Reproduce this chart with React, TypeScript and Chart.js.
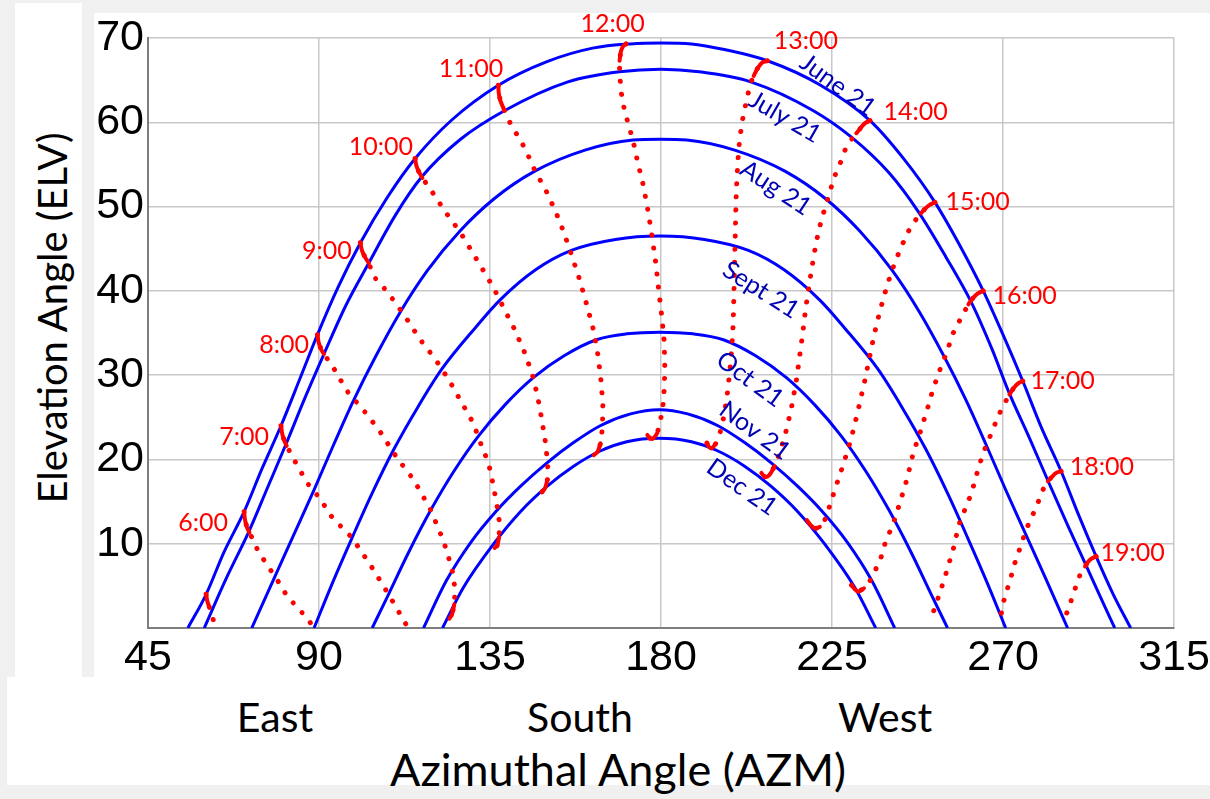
import React, { useEffect, useRef } from 'react';
import { Chart, registerables } from 'chart.js';

Chart.register(...registerables);

type Pt = [number, number];

// ---- axes ----
const xTickValues = [45, 90, 135, 180, 225, 270, 315];
const yTickValues = [0, 10, 20, 30, 40, 50, 60, 70];

// ---- sun-path curves (azimuth, elevation) for the 21st of each month ----
const dayNames = ['June 21', 'July 21', 'Aug 21', 'Sept 21', 'Oct 21', 'Nov 21', 'Dec 21'];

const june: Pt[] = [[55.5, 0], [60.3, 4.0], [65, 9.0], [70.3, 13.8], [75, 18.9], [80, 24.0], [85, 29.6], [89.6, 34.8], [95, 40.4], [100.9, 45.7], [108, 51.1], [115.3, 55.7], [125, 60.3], [137.2, 64.4], [150, 67.2], [162, 68.8], [172, 69.3], [180, 69.4], [188, 69.3], [197, 68.6], [208, 67.3], [222, 64.4], [235, 60.2], [244, 55.6], [252.1, 50.5], [258.5, 45.5], [264.8, 40.0], [270, 34.8], [275.2, 29.3], [280, 23.9], [285.3, 18.6], [290, 13.3], [294.5, 8.5], [299, 4.0], [303.6, 0]];
const july: Pt[] = [[59.8, 0], [65.5, 5.8], [71.6, 11.5], [76.5, 16.7], [81.3, 21.8], [86.3, 27.3], [91.3, 32.5], [97, 38.2], [103.1, 43.3], [110, 48.9], [117, 53.5], [127, 57.9], [138.9, 61.4], [155.5, 64.8], [169.1, 66.0], [180, 66.3], [190, 66.0], [203.6, 64.8], [220, 61.4], [230.2, 58.2], [240, 54.0], [247.7, 49.4], [255, 44.0], [261.7, 38.6], [267, 33.2], [271.7, 27.8], [277, 22.5], [281.8, 17.5], [287, 12.2], [291.8, 7.5], [295.5, 3.8], [299.4, 0]];
const aug: Pt[] = [[72.3, 0], [78.3, 6.0], [83.5, 11.2], [88.7, 16.4], [93.9, 21.8], [99.2, 27.1], [105, 32.3], [111.4, 37.5], [118.5, 42.4], [127.1, 47.1], [136, 50.9], [146.8, 54.2], [160, 56.7], [172.6, 57.9], [179.7, 58.0], [186.8, 57.9], [199.4, 56.7], [212.6, 54.2], [223.4, 50.9], [232.3, 47.1], [240.9, 42.4], [248, 37.5], [254.4, 32.3], [260.2, 27.1], [265.5, 21.8], [270.7, 16.4], [275.9, 11.2], [281.1, 6.0], [287, 0]];
const sept: Pt[] = [[88.7, 0], [93.5, 5.3], [98.7, 10.7], [104, 16.0], [109.7, 21.2], [116, 26.2], [122.3, 30.7], [131.1, 35.6], [137.6, 38.9], [147, 42.5], [156.4, 44.8], [168, 46.1], [179.7, 46.5], [191.4, 46.1], [203, 44.8], [212.4, 42.5], [221.8, 38.9], [228.3, 35.6], [237.1, 30.7], [243.4, 26.2], [249.7, 21.2], [255.4, 16.0], [260.7, 10.7], [265.9, 5.3], [270.7, 0]];
const oct: Pt[] = [[104, 0], [108.3, 4.0], [113.5, 8.9], [119.3, 13.9], [125.5, 18.6], [132, 22.8], [139, 26.5], [146.4, 29.7], [154.5, 32.3], [163, 34.2], [171, 34.9], [179.7, 35.1], [188.4, 34.9], [196.4, 34.2], [204.9, 32.3], [213, 29.7], [220.4, 26.5], [227.4, 22.8], [233.9, 18.6], [240.1, 13.9], [245.9, 8.9], [251.1, 4.0], [255.4, 0]];
const nov: Pt[] = [[117.5, 0], [123.5, 5.6], [130, 10.2], [136.5, 13.8], [143, 16.8], [150, 19.6], [157, 22.0], [164, 24.0], [172, 25.4], [179.5, 25.9], [187, 25.4], [195, 24.0], [202, 22.0], [209, 19.6], [216, 16.8], [222.5, 13.8], [229, 10.2], [235.5, 5.6], [241.5, 0]];
const dec: Pt[] = [[122.5, 0], [128, 4.8], [136, 10.0], [143, 13.8], [150, 16.8], [157, 19.2], [164, 21.0], [171, 22.1], [179.5, 22.5], [188, 22.1], [195, 21.0], [202, 19.2], [209, 16.8], [216, 13.8], [223, 10.0], [231, 4.8], [236.5, 0]];
const dayCurves = [june, july, aug, sept, oct, nov, dec];

// ---- hour lines (June 21 end first, December 21 end last) ----
const h05: Pt[] = [[60.3, 4.0], [60.6, 3.2], [61.2, 2.4], [61.9, 1.4], [62.6, 0.3]];
const h06: Pt[] = [[70.3, 13.8], [70.5, 12.9], [71.0, 12.0], [71.7, 11.3], [72.6, 10.5], [73.8, 9.3], [76.0, 7.7], [78.6, 6.0], [81.3, 4.0], [84.3, 2.4], [86.9, 1.2], [88.3, 0.2]];
const h07: Pt[] = [[80.0, 24.0], [80.3, 23.1], [80.8, 22.3], [81.5, 21.6], [83.4, 20.0], [86.9, 17.2], [90.0, 15.5], [93.5, 13.1], [98.7, 10.7], [103.5, 7.5], [108.3, 4.0], [113.2, 0.2]];
const h08: Pt[] = [[89.6, 34.8], [89.9, 33.9], [90.5, 33.1], [91.3, 32.5], [93.5, 31.1], [97.4, 28.1], [102.7, 25.3], [106.2, 23.2], [110.5, 20.2], [114.9, 17.6], [119.3, 14.1], [122.8, 10.3], [125.0, 7.0], [125.8, 4.6], [125.6, 2.8], [125.0, 1.6], [124.3, 1.1]];
const h09: Pt[] = [[100.9, 45.7], [101.3, 44.8], [102.1, 44.0], [103.1, 43.3], [104.4, 41.7], [107.0, 40.4], [110.1, 38.6], [113.2, 36.6], [116.5, 34.3], [120.6, 31.9], [124.1, 29.5], [127.6, 26.7], [130.6, 24.3], [132.8, 21.6], [134.6, 19.6], [135.6, 17.5], [136.7, 14.9], [137.5, 12.5], [137.4, 10.8], [136.9, 9.8], [136.2, 9.5]];
const h10: Pt[] = [[115.3, 55.7], [115.6, 54.9], [116.2, 54.2], [117.2, 53.4], [118.6, 52.5], [120.6, 51.2], [123.2, 49.4], [127.1, 47.0], [130.2, 44.7], [132.6, 42.9], [135.9, 40.4], [139.0, 37.6], [141.5, 35.4], [144.2, 32.6], [146.4, 29.7], [147.6, 27.3], [148.6, 24.8], [149.6, 22.0], [150.2, 19.4], [150.1, 17.6], [149.5, 16.6], [148.6, 16.1]];
const h11: Pt[] = [[137.2, 64.4], [137.3, 63.5], [137.7, 62.6], [138.6, 61.6], [139.7, 60.4], [141.1, 59.3], [144.2, 56.9], [146.8, 54.3], [150.3, 51.4], [153.4, 48.2], [156.0, 44.9], [158.6, 41.3], [160.5, 38.3], [162.2, 35.4], [163.4, 32.4], [164.2, 29.4], [164.7, 26.5], [164.6, 23.8], [164.1, 21.9], [163.3, 20.9], [162.3, 20.5]];
const h12: Pt[] = [[170.8, 69.3], [170.0, 69.0], [169.4, 68.3], [169.1, 67.3], [169.1, 65.9], [169.5, 63.6], [170.4, 61.4], [171.6, 59.5], [172.7, 57.7], [173.8, 55.4], [175.3, 52.6], [176.5, 49.7], [177.6, 46.6], [178.6, 43.4], [179.4, 40.1], [180.2, 37.0], [180.8, 34.2], [181.0, 31.4], [180.9, 28.6], [180.5, 26.3], [179.8, 24.5], [179.0, 23.1], [178.0, 22.5], [177.1, 22.5], [176.4, 22.9]];
const h13: Pt[] = [[208.0, 67.3], [206.7, 67.1], [205.4, 66.4], [204.4, 65.5], [203.6, 64.7], [202.5, 62.6], [201.5, 60.4], [200.7, 58.0], [200.2, 55.2], [199.8, 51.6], [199.6, 47.8], [199.4, 43.8], [199.2, 39.8], [199.0, 36.0], [198.6, 33.0], [198.1, 30.4], [197.4, 27.6], [196.5, 25.0], [195.4, 22.9], [194.3, 21.8], [193.3, 21.3], [192.6, 21.5], [192.0, 22.0]];
const h14: Pt[] = [[235.0, 60.2], [233.7, 59.9], [232.5, 59.3], [231.4, 58.7], [230.2, 58.0], [228.6, 56.9], [227.3, 55.3], [225.6, 53.5], [224.2, 51.4], [222.8, 49.3], [221.5, 47.2], [220.3, 44.4], [219.2, 41.3], [218.1, 38.0], [217.3, 35.0], [216.5, 32.3], [215.6, 29.3], [214.4, 26.3], [213.0, 23.5], [211.4, 21.0], [209.9, 19.2], [208.6, 18.2], [207.4, 17.9], [206.4, 18.4]];
const h15: Pt[] = [[252.1, 50.5], [250.7, 50.2], [249.4, 49.7], [248.4, 49.2], [247.3, 48.6], [245.6, 47.5], [244.0, 46.0], [242.3, 44.2], [240.6, 42.2], [239.1, 40.0], [237.6, 37.6], [236.2, 35.0], [235.0, 32.4], [233.7, 29.5], [232.3, 26.7], [230.8, 23.8], [229.3, 21.3], [227.6, 18.9], [225.9, 16.6], [224.4, 14.5], [223.1, 12.8], [221.8, 12.0], [220.6, 11.8], [219.4, 12.2], [218.4, 12.8]];
const h16: Pt[] = [[264.8, 40.0], [263.4, 39.7], [262.0, 39.1], [260.9, 38.4], [259.8, 37.5], [258.4, 36.3], [256.9, 35.0], [255.1, 32.6], [253.6, 30.9], [252.5, 29.5], [251.3, 27.9], [250.3, 26.3], [248.2, 23.2], [246.4, 20.8], [244.7, 17.6], [242.9, 14.9], [241.2, 12.5], [239.0, 10.1], [237.6, 7.9], [236.2, 6.7], [234.9, 5.5], [233.4, 4.7], [231.9, 4.3], [231.0, 4.6], [230.1, 5.1]];
const h17: Pt[] = [[275.2, 29.3], [273.9, 29.0], [272.7, 28.4], [271.7, 27.7], [270.0, 26.3], [268.6, 25.0], [267.4, 23.6], [266.1, 22.2], [264.8, 20.8], [263.3, 18.6], [261.7, 16.0], [260.1, 14.2], [258.6, 12.5], [257.7, 10.9], [256.9, 9.3], [255.8, 7.7], [254.7, 6.0], [253.6, 4.5], [252.5, 3.0], [251.6, 1.8], [250.8, 0.6]];
const h18: Pt[] = [[285.3, 18.6], [284.0, 18.4], [282.8, 17.9], [281.8, 17.4], [280.5, 16.4], [279.4, 15.1], [278.3, 13.9], [277.2, 12.8], [276.1, 11.7], [274.8, 9.9], [273.1, 7.7], [271.7, 5.4], [270.4, 3.6], [269.7, 2.1], [269.1, 0.6]];
const h19: Pt[] = [[294.5, 8.5], [293.2, 8.2], [292.3, 7.8], [291.6, 7.3], [290.5, 6.6], [289.6, 5.5], [288.8, 4.4], [288.1, 3.5], [287.5, 2.6], [286.8, 1.8], [286.2, 1.0]];
const hourLines = [h05, h06, h07, h08, h09, h10, h11, h12, h13, h14, h15, h16, h17, h18, h19];
// dense (solstice) ends of each hour line, counted in points
const juneHookPoints = [3, 4, 4, 4, 4, 4, 4, 4, 4, 4, 4, 4, 4, 4, 4];
const decHookPoints = [0, 0, 0, 3, 3, 3, 3, 4, 4, 4, 4, 4, 0, 0, 0];

// ---- text annotations (anchor in data units) ----
const hourLabelText = ['6:00', '7:00', '8:00', '9:00', '10:00', '11:00', '12:00', '13:00', '14:00', '15:00', '16:00', '17:00', '18:00', '19:00'];
const hourLabelAz = [59.5, 70.3, 80.8, 92.1, 106.3, 130.0, 167.3, 218.1, 247.0, 263.3, 275.7, 285.7, 296.0, 304.1];
const hourLabelEl = [12.5, 22.7, 33.6, 44.7, 57.1, 66.3, 71.7, 69.6, 61.2, 50.5, 39.4, 29.3, 19.1, 8.9];
const dayLabelAz = [226.5, 212.6, 210.2, 206.3, 203.4, 204.7, 201.3];
const dayLabelEl = [64.4, 60.6, 52.2, 40.1, 29.5, 23.4, 16.7];
const dayLabelAngle = [36, 30, 33, 32, 36, 36, 35];

const directionNames = ['East', 'South', 'West'];

const toXY = (pts: Pt[]) => pts.map(([x, y]) => ({ x, y }));

const labelPlugin = {
  id: 'sunLabels',
  afterDatasetsDraw(chart: any) {
    const { ctx } = chart;
    const xs = chart.scales.x;
    const ys = chart.scales.y;
    ctx.save();
    ctx.textAlign = 'center';
    ctx.textBaseline = 'middle';
    ctx.font = '25px Lato, "Open Sans", sans-serif';
    ctx.fillStyle = '#ff0000';
    hourLabelText.forEach((t, i) => {
      ctx.fillText(t, xs.getPixelForValue(hourLabelAz[i]), ys.getPixelForValue(hourLabelEl[i]));
    });
    ctx.fillStyle = '#0000b4';
    dayNames.forEach((t, i) => {
      ctx.save();
      ctx.translate(xs.getPixelForValue(dayLabelAz[i]), ys.getPixelForValue(dayLabelEl[i]));
      ctx.rotate((dayLabelAngle[i] * Math.PI) / 180);
      ctx.fillText(t, 0, 0);
      ctx.restore();
    });
    ctx.restore();
  },
};

export default function App() {
  const canvasRef = useRef<HTMLCanvasElement | null>(null);

  useEffect(() => {
    const canvas = canvasRef.current;
    if (!canvas) return;

    const dayDatasets = dayCurves.map((c, i) => ({
      label: dayNames[i],
      data: toXY(c),
      showLine: true,
      borderColor: '#0000ff',
      borderWidth: 3,
      pointRadius: 0,
      cubicInterpolationMode: 'monotone' as const,
      order: 3,
    }));
    const dotDatasets = hourLines.map((h) => ({
      label: 'hour',
      data: toXY(h),
      showLine: true,
      borderColor: '#ff0000',
      borderWidth: 5,
      borderDash: [0.1, 13],
      borderCapStyle: 'round' as const,
      pointRadius: 0,
      tension: 0,
      order: 2,
    }));
    const hookDatasets: any[] = [];
    hourLines.forEach((h, i) => {
      if (juneHookPoints[i] > 0) {
        hookDatasets.push({
          label: 'hook',
          data: toXY(h.slice(0, juneHookPoints[i])),
          showLine: true,
          borderColor: '#ff0000',
          borderWidth: 4,
          borderCapStyle: 'round',
          borderJoinStyle: 'round',
          pointRadius: 0,
          tension: 0.3,
          order: 1,
        });
      }
      if (decHookPoints[i] > 0) {
        hookDatasets.push({
          label: 'hook',
          data: toXY(h.slice(h.length - decHookPoints[i])),
          showLine: true,
          borderColor: '#ff0000',
          borderWidth: 4,
          borderCapStyle: 'round',
          borderJoinStyle: 'round',
          pointRadius: 0,
          tension: 0.3,
          order: 1,
        });
      }
    });

    const tickFont = { family: '"Liberation Sans", Arial, sans-serif', size: 43 };
    const chart = new Chart(canvas, {
      type: 'scatter',
      data: { datasets: [...hookDatasets, ...dotDatasets, ...dayDatasets] as any },
      options: {
        responsive: false,
        animation: false,
        devicePixelRatio: 1,
        layout: { padding: { top: 38, right: 36, left: 0, bottom: 0 } },
        plugins: { legend: { display: false }, tooltip: { enabled: false } },
        scales: {
          x: {
            type: 'linear',
            min: xTickValues[0],
            max: xTickValues[xTickValues.length - 1],
            afterBuildTicks: (s: any) => {
              s.ticks = xTickValues.map((v) => ({ value: v }));
            },
            ticks: { font: tickFont, color: '#000', padding: 4, maxRotation: 0, autoSkip: false },
            grid: { color: '#c8c8c8', lineWidth: 1.5, drawTicks: false },
            border: { color: '#7f7f7f', width: 2 },
            afterFit: (s: any) => {
              s.height = 171;
              s.paddingLeft = 0;
              s.paddingRight = 0;
            },
          },
          y: {
            type: 'linear',
            min: yTickValues[0],
            max: yTickValues[yTickValues.length - 1],
            afterBuildTicks: (s: any) => {
              s.ticks = yTickValues.map((v) => ({ value: v }));
            },
            ticks: {
              font: tickFont,
              color: '#000',
              padding: 4,
              callback: (v: any) => (v === 0 ? '' : String(v)),
            },
            grid: { color: '#c8c8c8', lineWidth: 1.5, drawTicks: false },
            border: { color: '#7f7f7f', width: 2 },
            afterFit: (s: any) => {
              s.width = 148;
              s.paddingTop = 0;
              s.paddingBottom = 0;
            },
          },
        },
      },
      plugins: [labelPlugin],
    });
    return () => chart.destroy();
  }, []);

  const dirX = [275, 580, 885];
  return (
    <div
      style={{
        position: 'absolute',
        left: 0,
        top: 0,
        width: 1210,
        height: 799,
        background: '#f0f0f0',
        overflow: 'hidden',
        fontFamily: 'Lato, "Open Sans", sans-serif',
        color: '#000',
      }}
    >
      <div style={{ position: 'absolute', left: 15, top: 3, width: 67, height: 674, background: '#fff' }} />
      <div style={{ position: 'absolute', left: 94, top: 13, width: 1116, height: 664, background: '#fff' }} />
      <div style={{ position: 'absolute', left: 7, top: 677, width: 1203, height: 108, background: '#fff' }} />
      <div
        style={{
          position: 'absolute',
          left: 52 - 250,
          top: 318 - 20,
          width: 500,
          height: 40,
          fontSize: 40,
          lineHeight: '40px',
          textAlign: 'center',
          whiteSpace: 'nowrap',
          transform: 'rotate(-90deg)',
        }}
      >
        Elevation Angle (ELV)
      </div>
      {directionNames.map((d, i) => (
        <div
          key={d}
          style={{
            position: 'absolute',
            left: dirX[i] - 150,
            top: 696,
            width: 300,
            fontSize: 41,
            lineHeight: '41px',
            textAlign: 'center',
            whiteSpace: 'nowrap',
          }}
        >
          {d}
        </div>
      ))}
      <div
        style={{
          position: 'absolute',
          left: 618 - 300,
          top: 747,
          width: 600,
          fontSize: 45,
          lineHeight: '45px',
          textAlign: 'center',
          whiteSpace: 'nowrap',
        }}
      >
        Azimuthal Angle (AZM)
      </div>
      <canvas
        ref={canvasRef}
        width={1210}
        height={799}
        style={{ position: 'absolute', left: 0, top: 0, width: 1210, height: 799 }}
      />
    </div>
  );
}
